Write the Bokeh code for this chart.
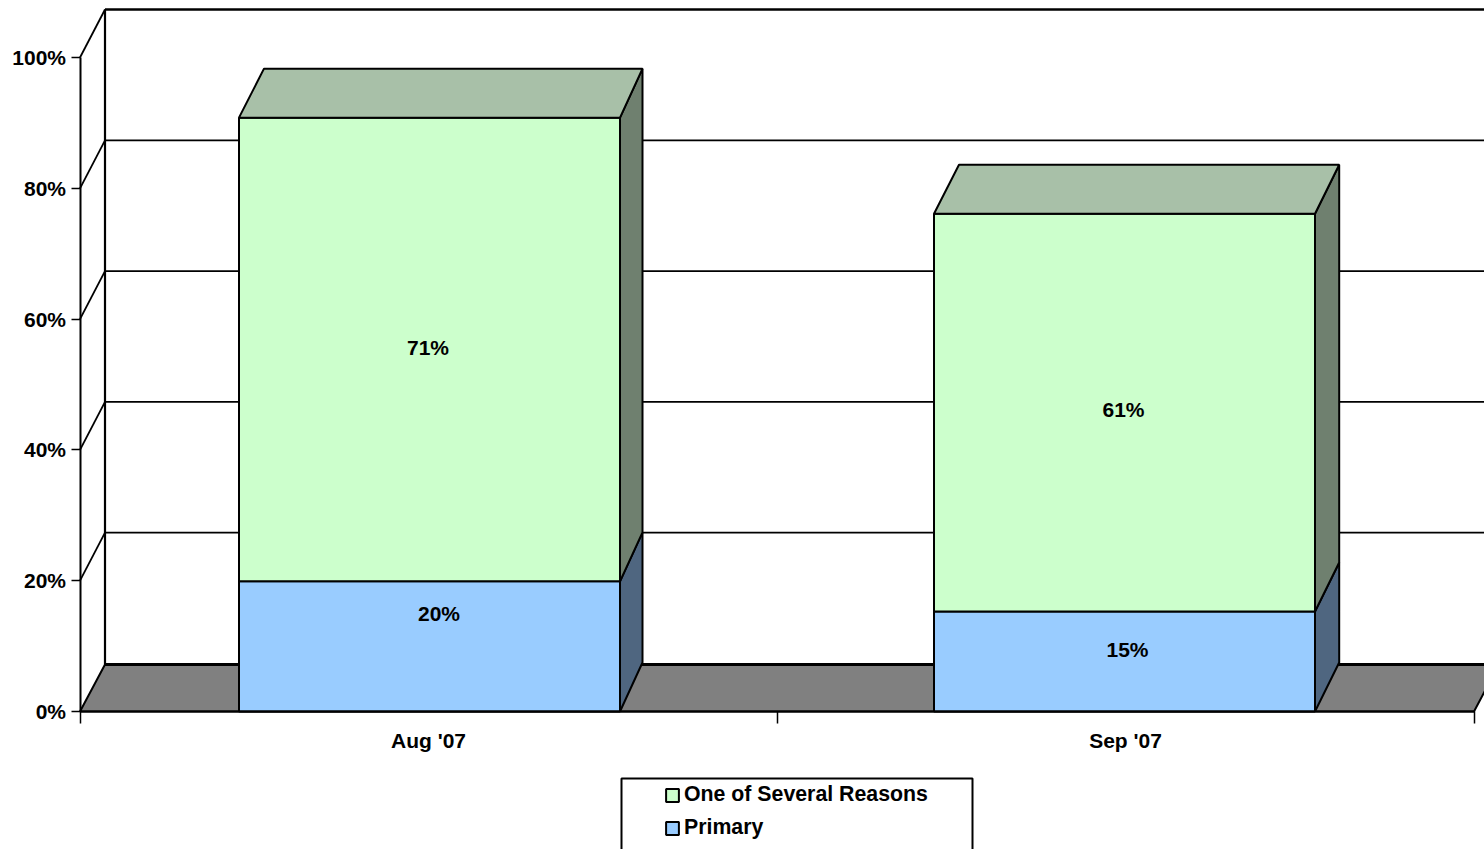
from bokeh.embed import file_html
from bokeh.resources import INLINE
from bokeh.plotting import figure
from bokeh.models import (Range1d, FixedTicker, Legend, LegendItem, ColumnDataSource)
from bokeh.core.properties import value

# ---- data ----
categories = ["Aug '07", "Sep '07"]
primary = [19.9, 15.3]
several = [70.9, 60.8]
primary_labels = ["20%", "15%"]
several_labels = ["71%", "61%"]
y_ticks = [0, 20, 40, 60, 80, 100]
series_names = ["One of Several Reasons", "Primary"]

# ---- styles / layout ----
FONT = "Liberation Sans"
GREEN, GREEN_TOP, GREEN_SIDE = "#CCFFCC", "#A8C0A8", "#6F806F"
BLUE, BLUE_SIDE = "#99CCFF", "#4F6680"
FLOOR = "#808080"
W, H = 1484, 849
X0, Y0 = 79.5, 711  # pixel of the chart origin
PX_X = 697.0      # pixels per category
PX_Y = 6.54       # pixels per percent
DX = 25 / PX_X    # depth of the pseudo 3D box
DY = 48 / PX_Y
FLOOR_DY = 47 / PX_Y
BAR_DY = 49 / PX_Y
BAR_DX_RIGHT = [22.5 / PX_X, 24.2 / PX_X]
HALF = 190.5 / PX_X
NUDGE = 1.0 / PX_X

n = len(categories)
centers = [i + 0.5 + (NUDGE if i == 0 else -NUDGE) for i in range(n)]
x_end = (W - X0) / PX_X
y_end = Y0 / PX_Y

p = figure(width=W, height=H, output_backend="svg", toolbar_location=None,
           x_range=Range1d(-X0 / PX_X, x_end), y_range=Range1d(-(H - Y0) / PX_Y, y_end),
           min_border=0, outline_line_color=None,
           background_fill_color="white", border_fill_color="white")
p.grid.visible = False

# floor
p.patch([0, n, n + DX, DX], [0, 0, FLOOR_DY, FLOOR_DY], fill_color=FLOOR,
        line_color="black", line_width=2)
# wall lines
grid = y_ticks[1:-1]
p.multi_line([[DX, x_end] for _ in grid], [[t + DY, t + DY] for t in grid],
             line_color="black", line_width=1.8)
p.multi_line([[0, DX] for _ in y_ticks[1:]], [[t, t + DY] for t in y_ticks[1:]],
             line_color="black", line_width=1.8)
p.line([DX, DX], [FLOOR_DY, y_ticks[-1] + DY], line_color="black", line_width=2.2)
p.line([DX, x_end], [y_ticks[-1] + DY] * 2, line_color="black", line_width=2.5)
p.line([DX, x_end], [FLOOR_DY, FLOOR_DY], line_color="black", line_width=2.8)

# bars
lefts = [c - HALF for c in centers]
rights = [c + HALF for c in centers]
tops = [a + b for a, b in zip(primary, several)]

blue_r = p.quad(left=lefts, right=rights, bottom=[0] * n, top=primary,
                fill_color=BLUE, line_color="black", line_width=2)
green_r = p.quad(left=lefts, right=rights, bottom=primary, top=tops,
                 fill_color=GREEN, line_color="black", line_width=2)

side_xs = [[r, r + d, r + d, r] for r, d in zip(rights, BAR_DX_RIGHT)]
p.patches(side_xs, [[0, BAR_DY, pv + BAR_DY, pv] for pv in primary],
          fill_color=BLUE_SIDE, line_color="black", line_width=2)
p.patches(side_xs, [[pv, pv + BAR_DY, t + BAR_DY, t] for pv, t in zip(primary, tops)],
          fill_color=GREEN_SIDE, line_color="black", line_width=2)
p.patches([[l, l + DX, r + d, r] for l, r, d in zip(lefts, rights, BAR_DX_RIGHT)],
          [[t, t + BAR_DY, t + BAR_DY, t] for t in tops],
          fill_color=GREEN_TOP, line_color="black", line_width=2)

# data labels
lab = ColumnDataSource(dict(
    x=centers + centers,
    y=[p0 + s / 2 for p0, s in zip(primary, several)] + [v / 2 for v in primary],
    text=several_labels + primary_labels,
    xo=[-1.5, -1.0, 9.5, 3.0],
    yo=[-2, -3, -33, -12],
))
p.text(x="x", y="y", text="text", x_offset="xo", y_offset="yo", source=lab,
       text_align="center", text_baseline="middle", text_color="black",
       text_font=value(FONT), text_font_style="bold", text_font_size="21px")

# axes: real axes pinned inside the frame
ya = p.yaxis[0]
ya.fixed_location = 0
ya.ticker = FixedTicker(ticks=y_ticks)
ya.major_label_overrides = {t: f"{t}%" for t in y_ticks}
ya.bounds = (0, 100)
ya.axis_line_color = "black"
ya.axis_line_width = 2
ya.major_tick_line_color = "black"
ya.major_tick_line_width = 1.5
ya.major_tick_out = 9
ya.major_tick_in = 0
ya.minor_tick_line_color = None
ya.major_label_standoff = 5
ya.major_label_text_font = FONT
ya.major_label_text_font_style = "bold"
ya.major_label_text_font_size = "21px"
ya.major_label_text_color = "black"

xa = p.xaxis[0]
xa.fixed_location = 0
xa.ticker = FixedTicker(ticks=[i + 0.5 for i in range(n)], minor_ticks=list(range(n + 1)))
xa.major_label_overrides = {i + 0.5: c for i, c in enumerate(categories)}
xa.bounds = (0, n)
xa.axis_line_color = "black"
xa.axis_line_width = 2
xa.major_tick_line_color = None
xa.major_tick_out = 0
xa.major_tick_in = 0
xa.minor_tick_line_color = "black"
xa.minor_tick_line_width = 1.5
xa.minor_tick_out = 12
xa.minor_tick_in = 0
xa.major_label_standoff = 5
xa.major_label_text_font = FONT
xa.major_label_text_font_style = "bold"
xa.major_label_text_font_size = "21px"
xa.major_label_text_color = "black"

# legend box and legend
p.quad(left=[(621 - X0) / PX_X], right=[(972 - X0) / PX_X],
       top=[-(778 - Y0) / PX_Y], bottom=[-(870 - Y0) / PX_Y],
       fill_color="white", line_color="black", line_width=2)
legend = Legend(items=[LegendItem(label=series_names[0], renderers=[green_r]),
                       LegendItem(label=series_names[1], renderers=[blue_r])],
                location=(664, 849 - 840), orientation="vertical",
                padding=0, margin=0, spacing=8,
                glyph_width=16, glyph_height=16, label_height=24, label_standoff=4,
                label_text_font=FONT, label_text_font_style="bold",
                label_text_font_size="21.3px", label_text_color="black",
                border_line_color=None, background_fill_alpha=0)
p.add_layout(legend, "center")

open("out.html", "w").write(file_html(p, INLINE))
